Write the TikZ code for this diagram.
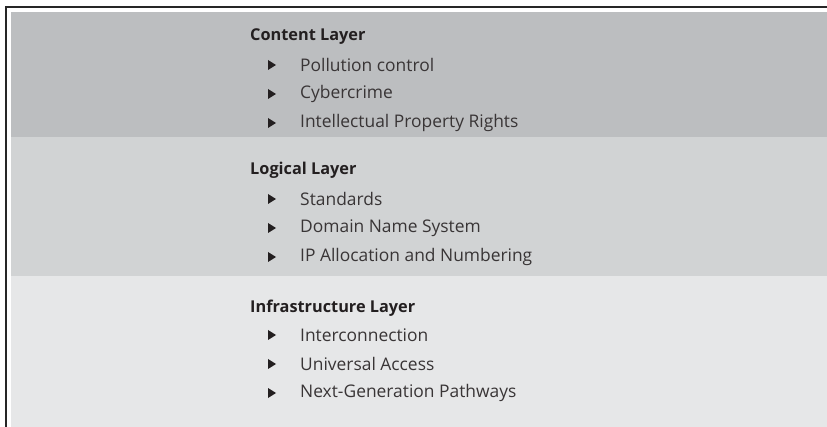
\documentclass[tikz,border=0pt]{standalone}
\usepackage{fontspec}
\setmainfont{Open Sans}
\definecolor{bandA}{HTML}{BCBEC0}
\definecolor{bandB}{HTML}{D1D3D4}
\definecolor{bandC}{HTML}{E6E7E8}
\definecolor{txt}{HTML}{231F20}
\begin{document}
\begin{tikzpicture}[x=1pt,y=-1pt,
  head/.style={anchor=west,inner sep=0pt,font=\fontsize{16.3}{17}\selectfont\bfseries,text=txt},
  item/.style={anchor=west,inner sep=0pt,font=\fontsize{17.4}{18}\selectfont,text=txt!90},
  tri/.style={fill=txt,draw=none}]
\useasboundingbox (0,0) rectangle (827,427);
\fill[white] (0,0) rectangle (827,427);
\fill[bandA] (11,12) rectangle (827,137);
\fill[bandB] (11,137) rectangle (827,276);
\fill[bandC] (11,276) rectangle (827,427);
\draw[line width=1.6pt,black!85] (6,427) -- (6,7) -- (827,7);
% texts
\node[head] (h1) at (250,37) {Content Layer};
\node[item] (a1) at (300,65) {Pollution control};
\node[item] (a2) at (300,94) {Cybercrime};
\node[item] (a3) at (300,123) {Intellectual Property Rights};
\node[head] (h2) at (250,170) {Logical Layer};
\node[item] (b1) at (300,199) {Standards};
\node[item] (b2) at (300,228) {Domain Name System};
\node[item] (b3) at (300,257) {IP Allocation and Numbering};
\node[head] (h3) at (250,308) {Infrastructure Layer};
\node[item] (c1) at (300,335) {Interconnection};
\node[item] (c2) at (300,364) {Universal Access};
\node[item] (c3) at (300,393) {Next-Generation Pathways};
\foreach \n in {a1,a2,a3,b1,b2,b3,c1,c2,c3}{
  \fill[tri] ([xshift=-32pt,yshift=-5pt]\n.west) -- ([xshift=-24pt]\n.west) -- ([xshift=-32pt,yshift=5pt]\n.west) -- cycle;
}
\end{tikzpicture}
\end{document}
